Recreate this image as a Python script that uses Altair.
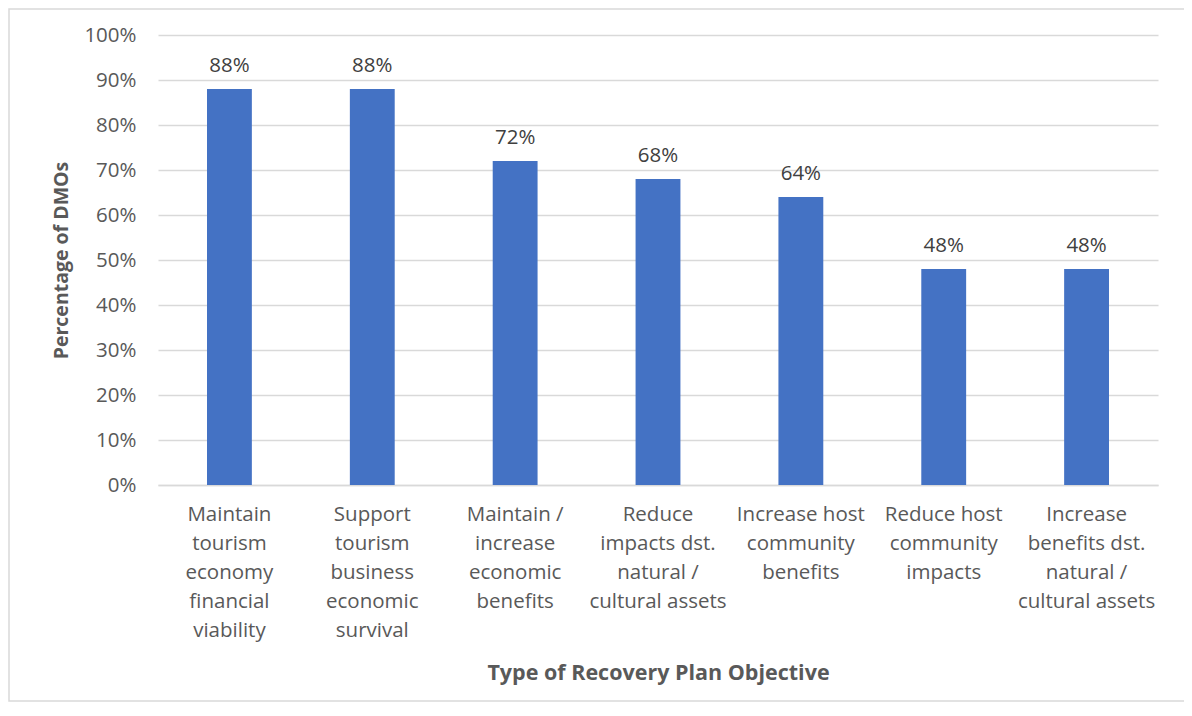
import altair as alt
import pandas as pd

categories = [
    "Maintain\ntourism\neconomy\nfinancial\nviability",
    "Support\ntourism\nbusiness\neconomic\nsurvival",
    "Maintain /\nincrease\neconomic\nbenefits",
    "Reduce\nimpacts dst.\nnatural /\ncultural assets",
    "Increase host\ncommunity\nbenefits",
    "Reduce host\ncommunity\nimpacts",
    "Increase\nbenefits dst.\nnatural /\ncultural assets",
]
values = [0.88, 0.88, 0.72, 0.68, 0.64, 0.48, 0.48]

df = pd.DataFrame({"cat": categories, "val": values})

FONT = "Open Sans"

x = alt.X(
    "cat:N",
    sort=categories,
    scale=alt.Scale(paddingInner=0.686, paddingOuter=0.343),
    axis=alt.Axis(
        title="Type of Recovery Plan Objective",
        labelAngle=0,
        labelExpr="split(datum.label, '\\n')",
        labelLineHeight=29,
        labelFontSize=20.5,
        labelColor="#595959",
        labelPadding=19,
        labelFont=FONT,
        labelLimit=220,
        ticks=False,
        domainColor="#d9d9d9",
        domainWidth=1.5,
        titleFontSize=21.5,
        titleFont=FONT,
        titleFontWeight="bold",
        titleColor="#595959",
        titlePadding=22,
    ),
)

y = alt.Y(
    "val:Q",
    scale=alt.Scale(domain=[0, 1]),
    axis=alt.Axis(
        title="Percentage of DMOs",
        format=".0%",
        values=[i / 10 for i in range(11)],
        tickCount=11,
        labelFontSize=20.5,
        labelColor="#595959",
        labelFont=FONT,
        labelPadding=22,
        ticks=False,
        domain=False,
        gridColor="#d9d9d9",
        gridWidth=1.5,
        titleFontSize=19.5,
        titleFont=FONT,
        titleFontWeight="bold",
        titleColor="#595959",
        titlePadding=12,
    ),
)

bars = alt.Chart(df).mark_bar(color="#4472C4").encode(x=x, y=y)

labels = alt.Chart(df).mark_text(
    baseline="bottom", dy=-13, fontSize=20.5, font=FONT, color="#404040"
).encode(x=alt.X("cat:N", sort=categories), y="val:Q", text=alt.Text("val:Q", format=".0%"))

border = alt.Chart(pd.DataFrame({"a": [0]})).mark_rect(
    fill=None, stroke="#d9d9d9", strokeWidth=1.5, clip=False
).encode(
    x=alt.value(-149), x2=alt.value(1027), y=alt.value(-26), y2=alt.value(666)
)

chart = (
    alt.layer(border, bars, labels)
    .properties(
        width=1000,
        height=450,
        autosize=alt.AutoSizeParams(type="none"),
        padding={"left": 150, "top": 27, "right": 26, "bottom": 218},
        background="white",
    )
    .configure_view(stroke=None)
)

chart.save("out.html", embed_options={"renderer": "svg", "actions": False})
